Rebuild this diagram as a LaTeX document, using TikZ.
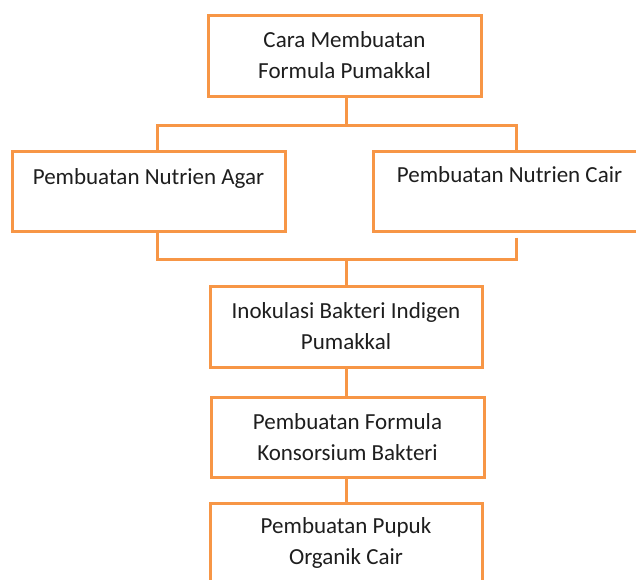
\documentclass[tikz,border=0pt]{standalone}
\usepackage{fontspec}
\setmainfont{Carlito}
\usetikzlibrary{calc}
\definecolor{oranye}{RGB}{247,150,70}
\definecolor{tinta}{RGB}{30,30,30}
\begin{document}
\begin{tikzpicture}[x=0.5pt,y=-0.5pt,line join=miter,line width=1.5pt]
				\tikzset{kotak/.style={draw=oranye,fill=white,align=center,text=tinta,inner sep=0pt,
						font=\fontsize{11.5}{15.5}\selectfont},
					garis/.style={draw=oranye,line width=1.5pt}}
				\useasboundingbox (0,0) rectangle (636,579);
				\clip (0,0) rectangle (636,579);
				\node[kotak,minimum width=136.5pt,minimum height=40.5pt] (cara) at (344.5,55.5) {Cara Membuatan\\Formula Pumakkal};
				\node[kotak,minimum width=136.5pt,minimum height=40pt] (agar) at (148.5,191) {Pembuatan Nutrien Agar\\[-0.75pt]\mbox{}};
				\node[kotak,minimum width=136.5pt,minimum height=40pt] (cair) at (509.5,191) {Pembuatan Nutrien Cair\\[0.75pt]\mbox{}};
				\node[kotak,minimum width=136pt,minimum height=40.5pt] (inok) at (346,326.5) {Inokulasi Bakteri Indigen\\Pumakkal};
				\node[kotak,minimum width=136.5pt,minimum height=40pt] (kons) at (347.5,437) {Pembuatan Formula\\Konsorsium Bakteri};
				\node[kotak,minimum width=136pt,minimum height=40pt] (pupuk) at (346,543) {Pembuatan Pupuk\\Organik Cair};
				\coordinate (cabang) at (346,125);
				\coordinate (gabung) at (346,259);
				\draw[garis] (cabang |- cara.south) -- (cabang);
				\draw[garis] ($(agar.north)+(8.5,0)$) |- (cabang) -| ($(cair.north)+(6.5,0)$);
				\draw[garis] ($(agar.south)+(8.5,0)$) |- (gabung);
				\draw[garis] ($(cair.south)+(6.5,5)$) |- (gabung);
				\draw[garis] (gabung) -- (gabung |- inok.north);
				\draw[garis] (gabung |- inok.south) -- (gabung |- kons.north);
				\draw[garis] (gabung |- kons.south) -- (gabung |- pupuk.north);
			\end{tikzpicture}
\end{document}
